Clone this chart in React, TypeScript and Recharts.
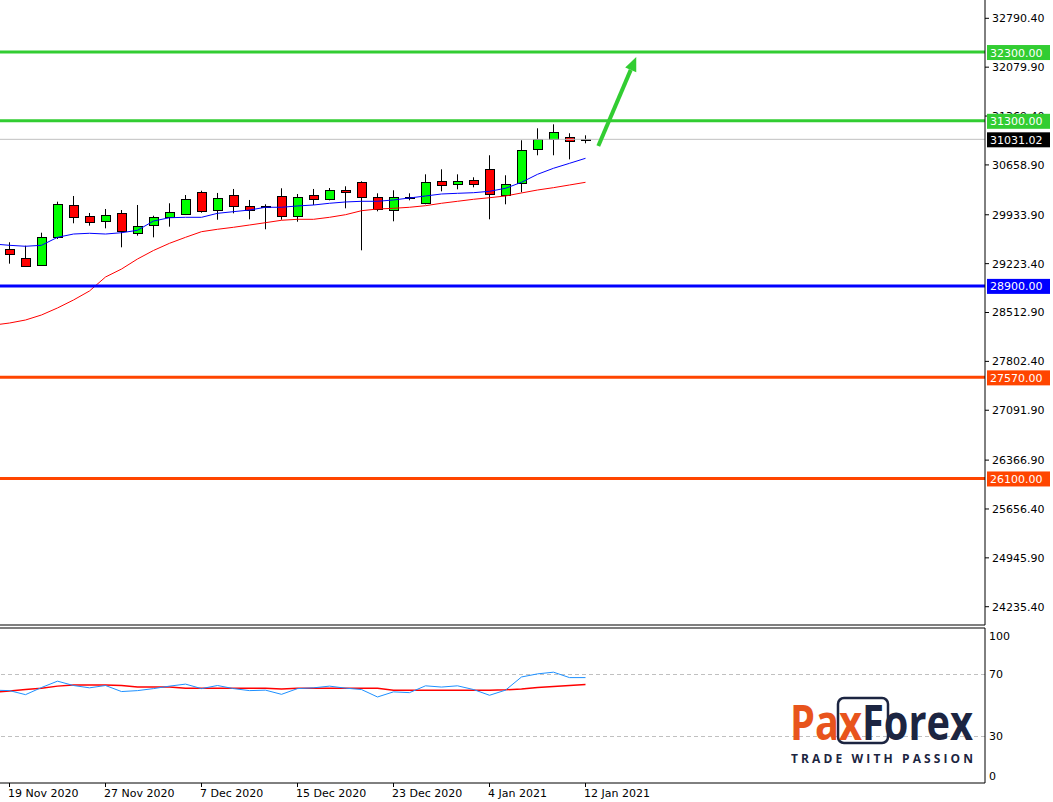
import React from 'react';
import { Bar, ComposedChart, Line, ReferenceLine, XAxis, YAxis } from 'recharts';

// bar index -1 is the candle just left of the visible area (only its MA/RSI values show)
const barIndex = [-1, 0, 1, 2, 3, 4, 5, 6, 7, 8, 9, 10, 11, 12, 13, 14, 15, 16, 17, 18, 19, 20, 21, 22, 23, 24, 25, 26, 27, 28, 29, 30, 31, 32, 33, 34, 35, 36];

const opens = [null, 29432, 29305, 29199, 29606, 30072, 29912, 29839, 29955, 29665, 29781, 29897, 29941, 30261, 29999, 30217, 30057, 30057, 30203, 29912, 30217, 30159, 30290, 30406, 30188, 29999, 30180, 30101, 30421, 30377, 30435, 30595, 30217, 30392, 30886, 31031, 31060, 31022];
const highs = [null, 29534, 29484, 29673, 30124, 30207, 29960, 30018, 30003, 30076, 29920, 30101, 30221, 30284, 30251, 30309, 30149, 30086, 30319, 30236, 30309, 30323, 30348, 30421, 30246, 30290, 30246, 30522, 30595, 30522, 30479, 30799, 30508, 31017, 31191, 31249, 31119, 31089];
const lows = [null, 29223, 29185, 29195, 29582, 29810, 29775, 29737, 29461, 29630, 29606, 29761, 29930, 29964, 29862, 29955, 29868, 29723, 29862, 29833, 30076, 30144, 30028, 29417, 29984, 29839, 30144, 30086, 30275, 30304, 30333, 29868, 30086, 30261, 30799, 30799, 30740, 30973];
const closes = [null, 29359, 29189, 29606, 30086, 29897, 29825, 29926, 29694, 29766, 29897, 29970, 30159, 29984, 30173, 30057, 29999, 30037, 29912, 30188, 30159, 30290, 30261, 30188, 30014, 30188, 30176, 30406, 30362, 30421, 30377, 30232, 30377, 30871, 31031, 31133, 31002, 31031.02];

const maFast = [29509, 29490, 29476, 29490, 29606, 29654, 29665, 29654, 29673, 29708, 29843, 29891, 29897, 29897, 29955, 29979, 30003, 30043, 30043, 30062, 30076, 30101, 30120, 30130, 30130, 30149, 30178, 30207, 30236, 30246, 30255, 30275, 30319, 30406, 30522, 30610, 30682, 30755];
const maSlow = [28330, 28360, 28404, 28477, 28579, 28695, 28826, 29029, 29145, 29291, 29415, 29519, 29606, 29688, 29723, 29752, 29785, 29819, 29854, 29868, 29868, 29897, 29935, 29993, 30018, 30028, 30043, 30066, 30101, 30130, 30159, 30182, 30207, 30251, 30294, 30328, 30367, 30406];

const rsi = [59.9, 59.6, 57.0, 61.6, 65.7, 62.9, 61.4, 62.9, 59.0, 59.6, 60.9, 62.5, 63.8, 60.9, 62.9, 60.9, 59.6, 59.9, 57.2, 60.9, 61.4, 62.5, 61.2, 60.3, 55.5, 58.8, 58.3, 62.7, 61.9, 62.7, 60.3, 56.6, 59.9, 68.4, 70.4, 71.5, 68.0, 68.0];
const rsiSignal = [58.7, 59.3, 60.3, 61.2, 62.5, 63.2, 63.3, 63.3, 62.9, 62.0, 62.0, 62.0, 61.1, 61.1, 61.1, 61.1, 61.1, 61.1, 60.6, 61.2, 61.2, 61.2, 61.2, 61.2, 61.2, 59.9, 59.9, 59.9, 59.9, 59.9, 59.9, 59.9, 60.1, 60.7, 61.6, 62.2, 62.9, 63.5];

const priceTicks = [32790.4, 32079.9, 31369.4, 30658.9, 29933.9, 29223.4, 28512.9, 27802.4, 27091.9, 26366.9, 25656.4, 24945.9, 24235.4];
const dateTickBars = [0, 6, 12, 18, 24, 30, 36];
const dateLabels = ['19 Nov 2020', '27 Nov 2020', '7 Dec 2020', '15 Dec 2020', '23 Dec 2020', '4 Jan 2021', '12 Jan 2021'];

const levelPrices = [32300, 31300, 28900, 27570, 26100];
const levelColors = ['#32CD32', '#32CD32', '#0000FF', '#FF4500', '#FF4500'];
const lastPrice = 31031.02;
const arrowPoints = [
  { x: 36.8, y: 30934 },
  { x: 39.17, y: 32228 },
];

const priceDomain = [23969.6, 33056.5];
const barDomain = [-0.59375, 60.96875];
const rsiLevels = [70, 30];

const rows = barIndex.map((i, k) => ({
  i,
  open: opens[k],
  high: highs[k],
  low: lows[k],
  close: closes[k],
  range: opens[k] == null ? null : [lows[k], highs[k]],
  maFast: maFast[k],
  maSlow: maSlow[k],
  rsi: rsi[k],
  rsiSignal: rsiSignal[k],
}));

const snap = (v: number) => Math.round(v - 0.5) + 0.5;

const Candle = (props: any) => {
  const { x, y, width, height, payload } = props;
  if (!payload || payload.open == null || !height) return null;
  const { open, close, high, low } = payload;
  const k = height / (high - low);
  const yOf = (v: number) => y + (high - v) * k;
  const cx = snap(x + width / 2);
  const top = snap(yOf(Math.max(open, close)));
  const bot = snap(yOf(Math.min(open, close)));
  const left = snap(x + 0.5);
  return (
    <g>
      <line x1={cx} x2={cx} y1={y} y2={y + height} stroke="#000" strokeWidth={1} />
      <rect
        x={left}
        y={top}
        width={Math.round(width - 1)}
        height={Math.max(bot - top, 1)}
        fill={close >= open ? '#00FF00' : '#FF0000'}
        stroke="#000"
        strokeWidth={1}
      />
    </g>
  );
};

const tag = (text: string, color: string) => (p: any) => {
  const vb = p.viewBox || {};
  const right = vb.x + vb.width;
  return (
    <g>
      <rect x={right + 2} y={vb.y - 7} width={63} height={15} fill={color} />
      <text x={right + 5} y={vb.y + 4.5} fill="#fff" fontSize={11}>
        {text}
      </text>
    </g>
  );
};

const Arrow = (p: any) => {
  const a = p.y1 < p.y2 ? { x: p.x2, y: p.y2 } : { x: p.x1, y: p.y1 };
  const b = p.y1 < p.y2 ? { x: p.x1, y: p.y1 } : { x: p.x2, y: p.y2 };
  const ang = Math.atan2(b.y - a.y, b.x - a.x);
  const len = 14;
  const w = 6;
  const bx = b.x - len * Math.cos(ang);
  const by = b.y - len * Math.sin(ang);
  const nx = -Math.sin(ang);
  const ny = Math.cos(ang);
  return (
    <g>
      <line x1={a.x} y1={a.y} x2={bx} y2={by} stroke="#32CD32" strokeWidth={4} />
      <polygon points={`${b.x},${b.y} ${bx + nx * w},${by + ny * w} ${bx - nx * w},${by - ny * w}`} fill="#32CD32" />
    </g>
  );
};

const DateTick = (p: any) => {
  const idx = dateTickBars.indexOf(p.payload.value);
  return (
    <text x={p.x - 1.5} y={p.y} dy="0.71em" textAnchor="start" fill="#000" fontSize={11}>
      {dateLabels[idx]}
    </text>
  );
};

const RsiTick = (p: any) => {
  const v = p.payload.value;
  const dy = v === 100 ? 8 : v === 0 ? -7 : 0;
  return (
    <text x={p.x} y={p.y + dy} dy="0.355em" fill="#000" fontSize={11}>
      {v}
    </text>
  );
};

export default function App() {
  return (
    <div
      style={{
        position: 'absolute',
        left: 0,
        top: 0,
        width: 1053,
        height: 802,
        background: '#fff',
        fontFamily: '"DejaVu Sans", sans-serif',
        overflow: 'hidden',
      }}
    >
      <div style={{ position: 'absolute', left: 0, top: 0 }}>
        <ComposedChart width={1053} height={626} data={rows} margin={{ top: 0, right: 0, bottom: 0, left: 0 }}>
          <XAxis
            dataKey="i"
            type="number"
            domain={barDomain}
            allowDataOverflow
            tick={false}
            tickLine={false}
            height={1}
            axisLine={{ stroke: '#000' }}
          />
          <YAxis
            orientation="right"
            width={68}
            domain={priceDomain}
            allowDataOverflow
            ticks={priceTicks}
            interval={0}
            tickFormatter={(v: number) => v.toFixed(2)}
            tick={{ fill: '#000', fontSize: 11 }}
            tickSize={4}
            tickMargin={3}
            axisLine={{ stroke: '#000' }}
            tickLine={{ stroke: '#000' }}
          />
          <ReferenceLine y={lastPrice} stroke="#C0C0C0" strokeWidth={1} />
          <Bar dataKey="range" barSize={10} shape={Candle} isAnimationActive={false} />
          <Line dataKey="maSlow" type="linear" stroke="#FF0000" strokeWidth={1} dot={false} isAnimationActive={false} />
          <Line dataKey="maFast" type="linear" stroke="#0000FF" strokeWidth={1} dot={false} isAnimationActive={false} />
          {levelPrices.map((p, k) => (
            <ReferenceLine key={p} y={p} stroke={levelColors[k]} strokeWidth={3} />
          ))}
          <ReferenceLine segment={arrowPoints} shape={Arrow} ifOverflow="visible" />
        </ComposedChart>
      </div>
      {/* price tags sit on top of the axis labels, as in the terminal */}
      <div style={{ position: 'absolute', left: 0, top: 0 }}>
        <ComposedChart width={1053} height={626} data={rows} margin={{ top: 0, right: 68, bottom: 1, left: 0 }}>
          <XAxis dataKey="i" type="number" domain={barDomain} allowDataOverflow hide />
          <YAxis domain={priceDomain} allowDataOverflow hide />
          <ReferenceLine y={lastPrice} stroke="none" label={tag(lastPrice.toFixed(2), '#000')} />
          {levelPrices.map((p, k) => (
            <ReferenceLine key={p} y={p} stroke="none" label={tag(p.toFixed(2), levelColors[k])} />
          ))}
        </ComposedChart>
      </div>
      <div style={{ position: 'absolute', left: 0, top: 627 }}>
        <ComposedChart width={1053} height={175} data={rows} margin={{ top: 0, right: 0, bottom: 0, left: 0 }}>
          <XAxis
            xAxisId="frame"
            orientation="top"
            type="number"
            dataKey="i"
            domain={barDomain}
            allowDataOverflow
            tick={false}
            tickLine={false}
            height={1}
            axisLine={{ stroke: '#000' }}
          />
          <XAxis
            dataKey="i"
            type="number"
            domain={barDomain}
            allowDataOverflow
            ticks={dateTickBars}
            interval={0}
            height={19}
            tickSize={4}
            tickMargin={2}
            tick={DateTick}
            axisLine={{ stroke: '#000' }}
            tickLine={{ stroke: '#000' }}
          />
          <YAxis
            orientation="right"
            width={68}
            domain={[0, 100]}
            ticks={[0, 30, 70, 100]}
            interval={0}
            tick={RsiTick}
            tickLine={false}
            tickSize={4}
            tickMargin={0}
            axisLine={{ stroke: '#000' }}
          />
          {rsiLevels.map((v) => (
            <ReferenceLine key={v} y={v} stroke="#C0C0C0" strokeDasharray="4 3" />
          ))}
          <Line dataKey="rsiSignal" type="linear" stroke="#FF0000" strokeWidth={1.5} dot={false} isAnimationActive={false} />
          <Line dataKey="rsi" type="linear" stroke="#1E90FF" strokeWidth={1} dot={false} isAnimationActive={false} />
        </ComposedChart>
      </div>
      <svg width={1053} height={802} style={{ position: 'absolute', left: 0, top: 0, pointerEvents: 'none' }}>
        <rect x={838} y={698} width={50} height={45} rx={6} fill="none" stroke="#1C2541" strokeWidth={2.5} />
        <text
          x={790}
          y={740}
          fontFamily='"Open Sans", sans-serif'
          fontWeight={700}
          fontSize={48}
          textLength={183}
          lengthAdjust="spacingAndGlyphs"
        >
          <tspan fill="#E8541C">Pax</tspan>
          <tspan fill="#1C2541">Forex</tspan>
        </text>
        <text
          x={791}
          y={763}
          fontFamily='"Open Sans", sans-serif'
          fontWeight={700}
          fontSize={12}
          fill="#1C2541"
          textLength={182}
          lengthAdjust="spacing"
        >
          TRADE WITH PASSION
        </text>
      </svg>
    </div>
  );
}
